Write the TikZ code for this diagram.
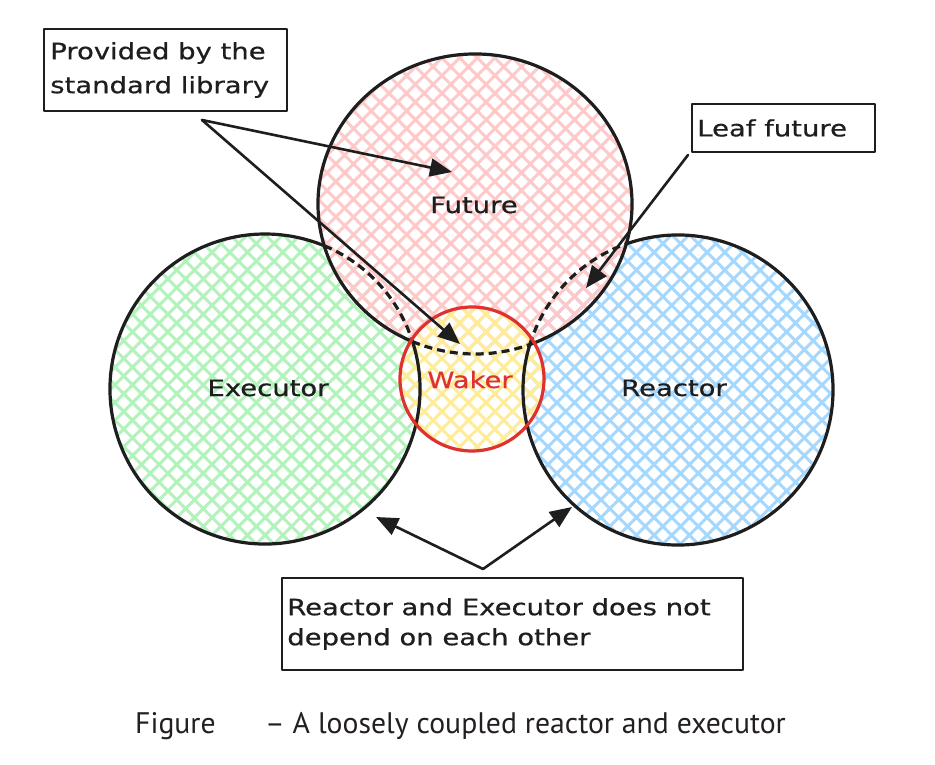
\documentclass[tikz,border=0pt]{standalone}
\usepackage{fontspec}
\setmainfont{DejaVu Sans}
\newfontfamily\handfont[FakeStretch=1.22,FakeBold=0.6]{DejaVu Sans}
\newfontfamily\capfont{PT Sans}
\usetikzlibrary{patterns.meta,arrows.meta}
\definecolor{ink}{HTML}{1E1E1E}
\definecolor{cpink}{HTML}{FFC9C9}
\definecolor{cgreen}{HTML}{B2F2BB}
\definecolor{cblue}{HTML}{A5D8FF}
\definecolor{cyellow}{HTML}{FFEC99}
\definecolor{cred}{HTML}{E03131}
\definecolor{capgray}{HTML}{231F20}
\begin{document}
\begin{tikzpicture}[x=1pt,y=-1pt,line join=round,line cap=round,
  hand/.style={font=\handfont\fontsize{22.5}{34}\selectfont,text=ink,inner sep=0pt},
  box/.style={draw=ink,line width=1.8pt,inner sep=0pt,line cap=butt},
  arr/.style={draw=ink,line width=2.6pt,-{Triangle[length=22pt,width=18pt]}},
  outline/.style={draw=ink,line width=3.2pt},
  dashline/.style={draw=ink,line width=3.2pt,line cap=butt,dash pattern=on 8pt off 5pt},
  hatch/.style={pattern={Hatch[angle=45,distance=12.5pt,line width=3pt]},pattern color=#1},
  capt/.style={font=\capfont\fontsize{29.7}{32}\selectfont,text=capgray,inner sep=0pt,anchor=base west}]
\fill[white] (0,0) rectangle (935,765);
\useasboundingbox (0,0) rectangle (935,765);
\coordinate (E) at (265,389);
\coordinate (R) at (678,390);
\coordinate (F) at (475,204);
\coordinate (W) at (472,379);
% fills
\fill[hatch=cgreen] (E) circle[radius=155];
\fill[hatch=cblue] (R) circle[radius=155];
\fill[hatch=cpink] (F) ellipse[x radius=157,y radius=150];
\fill[hatch=cyellow] (W) circle[radius=72];
% outlines
\draw[outline] ([shift={(-17.8:155)}]E) arc[start angle=-17.8,end angle=292.5,radius=155];
\draw[dashline] ([shift={(-67.5:155)}]E) arc[start angle=-67.5,end angle=-17.8,radius=155];
\draw[outline] ([shift={(-109.5:155)}]R) arc[start angle=-109.5,end angle=197,radius=155];
\draw[dashline] ([shift={(197:155)}]R) arc[start angle=197,end angle=250.5,radius=155];
\draw[outline] ([shift={(114.1:157 and 150)}]F) arc[start angle=114.1,end angle=427.8,x radius=157,y radius=150];
\draw[dashline] ([shift={(67.8:157 and 150)}]F) arc[start angle=67.8,end angle=114.1,x radius=157,y radius=150];
\draw[draw=cred,line width=3.2pt] (W) circle[radius=72];
% labels
\node[hand,anchor=base] (futlbl) at (474,213) {Future};
\node[hand,anchor=base] (exelbl) at (268,396) {Executor};
\node[hand,anchor=base] (reclbl) at (674,396) {Reactor};
\node[hand,anchor=base,text=cred] (waklbl) at (470,388) {Waker};
% boxes
\node[box,minimum width=243,minimum height=82] (libbox) at (165.5,70) {};
\node[hand,align=left,anchor=west] (libtxt) at ([xshift=7]libbox.west) {Provided by the\\standard library};
\node[box,minimum width=183,minimum height=48] (leafbox) at (783.5,128) {};
\node[hand,anchor=west] (leaftxt) at ([xshift=6]leafbox.west) {Leaf future};
\node[box,minimum width=461,minimum height=92] (depbox) at (512.5,624) {};
\node[hand,align=left,anchor=west,font=\handfont\fontsize{22.5}{30}\selectfont] (deptxt) at ([xshift=6]depbox.west) {Reactor and Executor does not\\depend on each other};
% arrows
\coordinate (libstart) at (202,120);
\coordinate (futtip) at (452,172);
\coordinate (waktip) at (460,344);
\coordinate (leafstart) at (688,155);
\coordinate (leaftip) at (586,288);
\coordinate (apex) at (483,569);
\coordinate (exetip) at (376,517);
\coordinate (rectip) at (572,507);
\draw[arr] (libstart) -- (futtip);
\draw[arr] (libstart) -- (waktip);
\draw[arr] (leafstart) -- (leaftip);
\draw[arr] (apex) -- (exetip);
\draw[arr] (apex) -- (rectip);
% caption
\node[capt] (capa) at (135,733) {Figure};
\node[capt] (capb) at (265,733) {– A loosely coupled reactor and executor};
\end{tikzpicture}
\end{document}
